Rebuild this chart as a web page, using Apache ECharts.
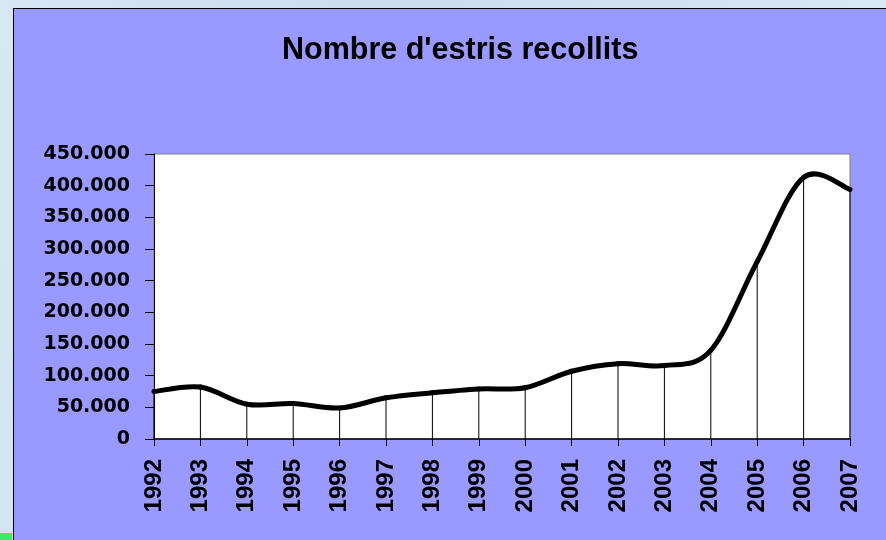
<!DOCTYPE html>
<html>
<head>
<meta charset="utf-8">
<script src="https://cdn.jsdelivr.net/npm/echarts@6/dist/echarts.min.js"></script>
<style>
  html, body { margin: 0; padding: 0; width: 886px; height: 540px; overflow: hidden;
    background: linear-gradient(100deg, #d9e6f4 0%, #c9dcf0 40%, #dde9f5 100%); }
  #panel { position: absolute; left: 13px; top: 8px; width: 900px; height: 560px;
    background: #9999ff; border: 1px solid #000; box-sizing: border-box; }
  #green { position: absolute; left: 0; top: 533px; width: 12px; height: 7px; background: #33ee66; }
  #chart { position: absolute; left: 0; top: 0; width: 886px; height: 540px; }
</style>
</head>
<body>
<div id="panel"></div>
<div id="green"></div>
<div id="chart"></div>
<script>
const chartTitle = "Nombre d'estris recollits";
const years = ['1992','1993','1994','1995','1996','1997','1998','1999','2000','2001','2002','2003','2004','2005','2006','2007'];
const collected = [75000, 82000, 55000, 56000, 49000, 65000, 73000, 79000, 81000, 107000, 119000, 116000, 140000, 280000, 413000, 394000];
const yMin = 0;
const yMax = 450000;
const yStep = 50000;

function fmt(v) {
  return String(v).replace(/\B(?=(\d{3})+(?!\d))/g, '.');
}

// Smooth (Catmull-Rom style) segment from point i to i+1, positioned through the axes
function renderSegment(params, api) {
  const i = params.dataIndex;
  const n = collected.length;
  if (i >= n - 1) return null;
  const P = (k) => api.coord([Math.max(0, Math.min(n - 1, k)), collected[Math.max(0, Math.min(n - 1, k))]]);
  const p0 = P(i - 1), p1 = P(i), p2 = P(i + 1), p3 = P(i + 2);
  const t = 1 / 6;
  const c1 = [p1[0] + (p2[0] - p0[0]) * t, p1[1] + (p2[1] - p0[1]) * t];
  const c2 = [p2[0] - (p3[0] - p1[0]) * t, p2[1] - (p3[1] - p1[1]) * t];
  return {
    type: 'bezierCurve',
    shape: { x1: p1[0], y1: p1[1], x2: p2[0], y2: p2[1], cpx1: c1[0], cpy1: c1[1], cpx2: c2[0], cpy2: c2[1] },
    style: { stroke: '#000', lineWidth: 5, fill: null, lineCap: 'round', lineJoin: 'round' }
  };
}

const chart = echarts.init(document.getElementById('chart'), null, { renderer: 'canvas' });
chart.setOption({
  backgroundColor: 'transparent',
  animation: false,
  title: {
    text: chartTitle,
    left: 277,
    top: 30,
    textStyle: { fontFamily: 'Liberation Sans, Arial, sans-serif', fontWeight: 'bold', fontSize: 30.5, color: '#000' }
  },
  grid: {
    left: 154, right: 36, top: 154, bottom: 101,
    show: true, backgroundColor: '#ffffff', borderColor: '#808080', borderWidth: 1
  },
  xAxis: {
    type: 'category',
    data: years,
    boundaryGap: false,
    axisLine: { lineStyle: { color: '#000', width: 1.5 } },
    axisTick: { show: true, length: 7, inside: false, alignWithLabel: true, lineStyle: { color: '#000' } },
    axisLabel: {
      rotate: 90, margin: 20, interval: 0,
      fontFamily: 'Liberation Sans, Arial, sans-serif', fontWeight: 'bold', fontSize: 24, color: '#000'
    },
    splitLine: { show: false }
  },
  yAxis: {
    type: 'value',
    min: yMin, max: yMax, interval: yStep,
    axisLine: { show: true, lineStyle: { color: '#000', width: 1 } },
    axisTick: { show: true, length: 9, inside: false, lineStyle: { color: '#000' } },
    axisLabel: {
      margin: 24, formatter: fmt,
      fontFamily: 'DejaVu Sans, sans-serif', fontWeight: 'bold', fontSize: 19, color: '#000'
    },
    splitLine: { show: false }
  },
  series: [
    {
      type: 'bar',
      data: collected,
      barWidth: 1,
      itemStyle: { color: '#000' },
      silent: true,
      z: 1
    },
    {
      type: 'custom',
      data: collected.map((v, i) => [i, v]),
      renderItem: renderSegment,
      encode: { x: 0, y: 1 },
      silent: true,
      clip: false,
      z: 3
    }
  ]
});
</script>
</body>
</html>
